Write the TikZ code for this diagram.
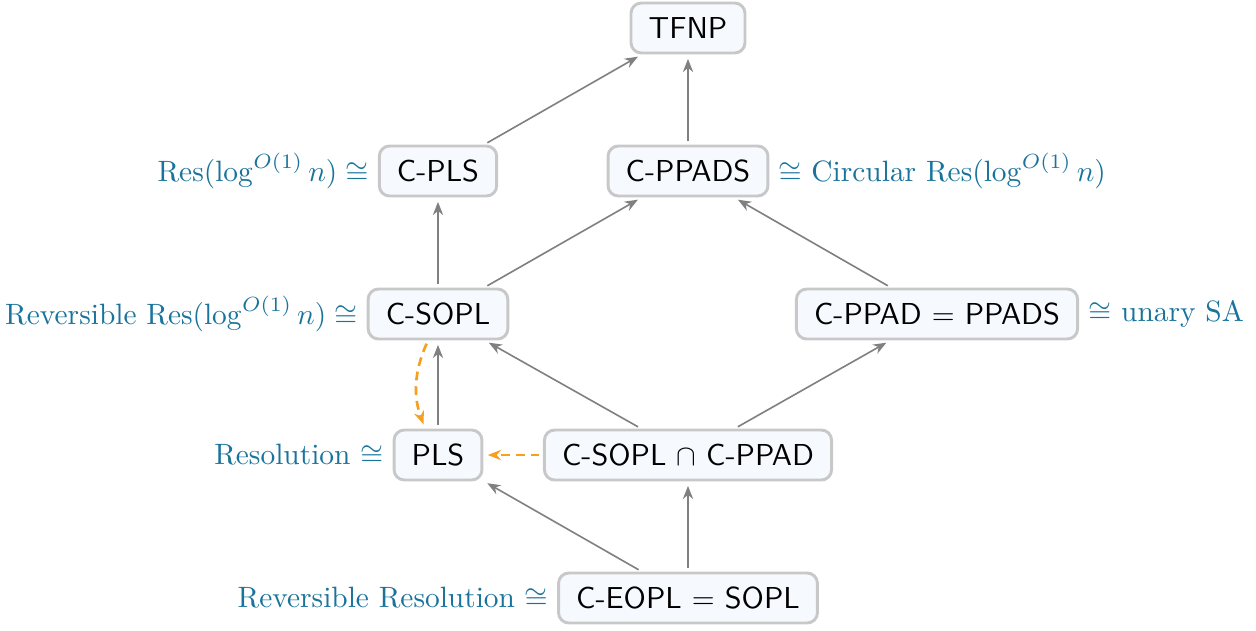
\documentclass[tikz,border=0pt]{standalone}
\usetikzlibrary{arrows.meta,positioning}
\definecolor{boxgray}{RGB}{200,200,200}
\definecolor{boxfill}{RGB}{246,250,254}
\definecolor{labblue}{RGB}{25,115,155}
\definecolor{arrgray}{RGB}{128,128,128}
\definecolor{orng}{RGB}{245,160,30}
\begin{document}
\begin{tikzpicture}[x=0.34pt,y=-0.34pt,
  box/.style={draw=boxgray, line width=1pt, fill=boxfill, rounded corners=3.5pt,
    inner xsep=6pt, minimum height=17pt, font=\sffamily\fontsize{10.3}{12}\selectfont},
  lab/.style={text=labblue, inner sep=1pt},
  arr/.style={-{Stealth[length=4.5pt,width=3.5pt]}, draw=arrgray, line width=0.55pt,
    shorten >=1.5pt, shorten <=1.2pt},
  orarr/.style={-{Stealth[length=4.5pt,width=3.5pt]}, draw=orng, line width=0.9pt,
    dash pattern=on 3pt off 2pt, shorten >=1.5pt, shorten <=1.2pt}]
\useasboundingbox (0,0) rectangle (1256,630);

\node[box] (tfnp)  at (688,28)  {TFNP};
\node[box] (cpls)  at (438,171) {C-PLS};
\node[box] (cppads) at (688,171) {C-PPADS};
\node[box] (csopl) at (438,314) {C-SOPL};
\node[box] (cppad) at (937,314) {C-PPAD $=$ PPADS};
\node[box] (pls)   at (438,455) {PLS};
\node[box] (inter) at (688,455) {C-SOPL $\cap$ C-PPAD};
\node[box] (ceopl) at (688,598) {C-EOPL $=$ SOPL};

\node[lab, left=2pt of cpls] (lcpls) {$\mathrm{Res}(\log^{O(1)} n) \cong$};
\node[lab, right=2pt of cppads] (lcppads) {$\cong$ Circular $\mathrm{Res}(\log^{O(1)} n)$};
\node[lab, left=2pt of csopl] (lcsopl) {Reversible $\mathrm{Res}(\log^{O(1)} n) \cong$};
\node[lab, right=2pt of cppad] (lcppad) {$\cong$ unary SA};
\node[lab, left=2pt of pls] (lpls) {Resolution $\cong$};
\node[lab, left=2pt of ceopl] (lceopl) {Reversible Resolution $\cong$};

\draw[arr] (cpls) -- (tfnp);
\draw[arr] (cppads) -- (tfnp);
\draw[arr] (csopl) -- (cpls);
\draw[arr] (csopl) -- (cppads);
\draw[arr] (cppad) -- (cppads);
\draw[arr] (pls) -- (csopl);
\draw[arr] (inter) -- (csopl);
\draw[arr] (inter) -- (cppad);
\draw[arr] (ceopl) -- (pls);
\draw[arr] (ceopl) -- (inter);

\draw[orarr] (inter) -- (pls);
\draw[orarr] ([xshift=-3.4pt]csopl.south) to[bend right=22] ([xshift=-4.4pt]pls.north);
\end{tikzpicture}
\end{document}
